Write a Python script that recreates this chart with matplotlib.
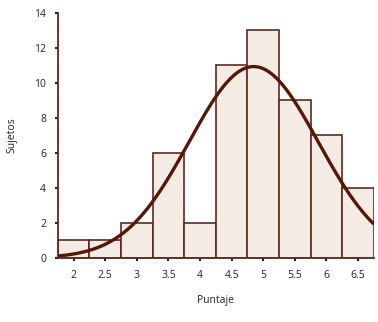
import numpy as np
import matplotlib
matplotlib.use('Agg')
import matplotlib.pyplot as plt

# données
puntaje = [2, 2.5, 3, 3.5, 4, 4.5, 5, 5.5, 6, 6.5]
sujetos = [1, 1, 2, 6, 2, 11, 13, 9, 7, 4]
tick_labels = ['2', '2.5', '3', '3.5', '4', '4.5', '5', '5.5', '6', '6.5']
bin_width = 0.5

# courbe normale ajustée aux données
x_arr = np.array(puntaje)
n_arr = np.array(sujetos)
total = n_arr.sum()
mu = (x_arr * n_arr).sum() / total
sigma = np.sqrt((n_arr * (x_arr - mu) ** 2).sum() / total)
xs = np.linspace(1.75, 6.75, 300)
ys = total * bin_width / (sigma * np.sqrt(2 * np.pi)) * np.exp(-0.5 * ((xs - mu) / sigma) ** 2)

edge = '#5b2a1e'
plt.rcParams['font.family'] = ['Open Sans', 'DejaVu Sans']

fig = plt.figure(figsize=(3.78, 3.22), dpi=100)
ax = fig.add_axes([0.153, 0.199, 0.836, 0.761])

ax.bar(puntaje, sujetos, width=bin_width, color='#f4ebe5', edgecolor=edge, linewidth=1.2)
ax.plot(xs, ys, color='#561608', linewidth=2.4, solid_capstyle='butt')

ax.set_xlim(1.75, 6.75)
ax.set_ylim(0, 14)
ax.set_xticks(puntaje)
ax.set_xticklabels(tick_labels)
ax.set_yticks(range(0, 15, 2))
ax.tick_params(axis='both', length=2.5, width=1.5, color='#3a1a10', labelsize=7.5, pad=6, labelcolor='#222222')

for s in ['top', 'right']:
    ax.spines[s].set_visible(False)
for s in ['left', 'bottom']:
    ax.spines[s].set_color(edge)
    ax.spines[s].set_linewidth(1.3)

ax.set_xlabel('Puntaje', fontsize=7.5, labelpad=10, color='#222222')
ax.set_ylabel('Sujetos', fontsize=7.5, labelpad=12, color='#222222')

plt.savefig('out.png', dpi=100)
